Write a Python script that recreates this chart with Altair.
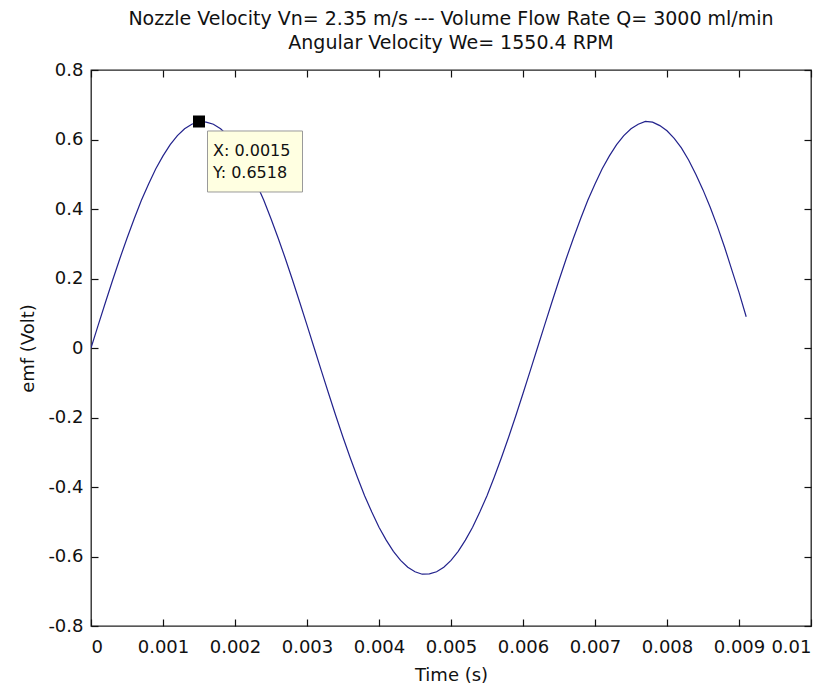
import altair as alt
import pandas as pd

# ---- data ----
time_s = [
    0.0000, 0.0001, 0.0002, 0.0003, 0.0004, 0.0005, 0.0006, 0.0007, 0.0008, 0.0009,
    0.0010, 0.0011, 0.0012, 0.0013, 0.0014, 0.0015, 0.0016, 0.0017, 0.0018, 0.0019,
    0.0020, 0.0021, 0.0022, 0.0023, 0.0024, 0.0025, 0.0026, 0.0027, 0.0028, 0.0029,
    0.0030, 0.0031, 0.0032, 0.0033, 0.0034, 0.0035, 0.0036, 0.0037, 0.0038, 0.0039,
    0.0040, 0.0041, 0.0042, 0.0043, 0.0044, 0.0045, 0.0046, 0.0047, 0.0048, 0.0049,
    0.0050, 0.0051, 0.0052, 0.0053, 0.0054, 0.0055, 0.0056, 0.0057, 0.0058, 0.0059,
    0.0060, 0.0061, 0.0062, 0.0063, 0.0064, 0.0065, 0.0066, 0.0067, 0.0068, 0.0069,
    0.0070, 0.0071, 0.0072, 0.0073, 0.0074, 0.0075, 0.0076, 0.0077, 0.0078, 0.0079,
    0.0080, 0.0081, 0.0082, 0.0083, 0.0084, 0.0085, 0.0086, 0.0087, 0.0088, 0.0089,
    0.0090, 0.0091,
]
emf_volt = [
    0.000, 0.066, 0.131, 0.195, 0.257, 0.316, 0.372, 0.425, 0.472, 0.516,
    0.553, 0.585, 0.611, 0.631, 0.644, 0.6518, 0.650, 0.644, 0.631, 0.611,
    0.585, 0.553, 0.516, 0.472, 0.425, 0.372, 0.316, 0.257, 0.195, 0.131,
    0.066, 0.000, -0.066, -0.131, -0.195, -0.257, -0.316, -0.372, -0.425, -0.472,
    -0.516, -0.553, -0.585, -0.611, -0.631, -0.644, -0.651, -0.650, -0.644, -0.631,
    -0.611, -0.585, -0.553, -0.516, -0.472, -0.425, -0.372, -0.316, -0.257, -0.195,
    -0.131, -0.066, 0.000, 0.066, 0.131, 0.195, 0.257, 0.316, 0.372, 0.425,
    0.472, 0.516, 0.553, 0.585, 0.611, 0.631, 0.644, 0.652, 0.650, 0.640,
    0.625, 0.603, 0.576, 0.541, 0.500, 0.455, 0.405, 0.350, 0.290, 0.225,
    0.160, 0.090,
]

x_ticks = [0, 0.001, 0.002, 0.003, 0.004, 0.005, 0.006, 0.007, 0.008, 0.009, 0.01]
y_ticks = [-0.8, -0.6, -0.4, -0.2, 0, 0.2, 0.4, 0.6, 0.8]

tip_x = [0.0015]
tip_y = [0.6518]
tip_text = ["X: 0.0015\nY: 0.6518"]

title_lines = [
    "Nozzle Velocity Vn= 2.35 m/s --- Volume Flow Rate Q= 3000 ml/min",
    "Angular Velocity We= 1550.4 RPM",
]

FONT = "DejaVu Sans, Liberation Sans, sans-serif"
W, H = 720, 556
TICK = 7

wave = pd.DataFrame({"t": time_s, "emf": emf_volt})
tip = pd.DataFrame({"t": tip_x, "emf": tip_y, "label": tip_text})

xscale = alt.Scale(domain=[0, 0.01], nice=False, zero=False)
yscale = alt.Scale(domain=[-0.8, 0.8], nice=False, zero=False)

# inward ticks: axis line pulled inside by TICK, ticks pointing outward to the frame
line = alt.Chart(wave).mark_line(color="#22228c", strokeWidth=1.2, clip=True).encode(
    x=alt.X("t:Q", scale=xscale, title="Time (s)",
            axis=alt.Axis(values=x_ticks, format="~g", ticks=True, tickSize=TICK,
                          tickColor="#111111", tickWidth=1.2, offset=-TICK,
                          domain=False, grid=False, labelPadding=12, titlePadding=10)),
    y=alt.Y("emf:Q", scale=yscale, title="emf (Volt)",
            axis=alt.Axis(values=y_ticks, ticks=True, tickSize=TICK, tickColor="#111111",
                          tickWidth=1.2, offset=-TICK, domain=False, grid=False,
                          labelPadding=8, titlePadding=10,
                          labelExpr="replace(format(datum.value, '~g'), '\u2212', '-')")),
)

box = alt.Chart(tip).mark_rect(
    width=95, height=61, xOffset=56, yOffset=40,
    fill="#ffffe1", stroke="#9a9a9a", strokeWidth=1,
).encode(x=alt.X("t:Q", scale=xscale, axis=None),
         y=alt.Y("emf:Q", scale=yscale, axis=None))

# marker layer also carries the top / right tick-only axes
marker = alt.Chart(tip).mark_square(size=144, color="black", opacity=1).encode(
    x=alt.X("t:Q", scale=xscale,
            axis=alt.Axis(orient="top", values=x_ticks, labels=False, title=None,
                          ticks=True, tickSize=TICK, tickColor="#111111", tickWidth=1.2,
                          offset=-TICK, domain=False, grid=False)),
    y=alt.Y("emf:Q", scale=yscale,
            axis=alt.Axis(orient="right", values=y_ticks, labels=False, title=None,
                          ticks=True, tickSize=TICK, tickColor="#111111", tickWidth=1.2,
                          offset=-TICK, domain=False, grid=False)),
)

label = alt.Chart(tip).mark_text(
    align="left", baseline="top", dx=14, dy=22, lineBreak="\n", lineHeight=22,
    font=FONT, fontSize=16, color="#111111",
).encode(x=alt.X("t:Q", scale=xscale, axis=None),
         y=alt.Y("emf:Q", scale=yscale, axis=None), text="label:N")

chart = alt.layer(line, box, marker, label).resolve_axis(
    x="independent", y="independent"
).properties(
    width=W, height=H,
    title=alt.TitleParams(text=title_lines, fontSize=19, fontWeight="normal",
                          font=FONT, color="#111111", anchor="middle",
                          lineHeight=24, offset=8),
    autosize=alt.AutoSizeParams(type="none"),
    padding={"left": 83, "top": 62, "right": 10, "bottom": 62},
    background="white",
).configure_view(stroke="#222222", strokeWidth=1.3).configure_axis(
    labelFont=FONT, titleFont=FONT, labelFontSize=18, titleFontSize=18,
    labelColor="#111111", titleColor="#111111", titleFontWeight="normal",
)

chart.save("out.html", embed_options={"renderer": "svg", "actions": False})
